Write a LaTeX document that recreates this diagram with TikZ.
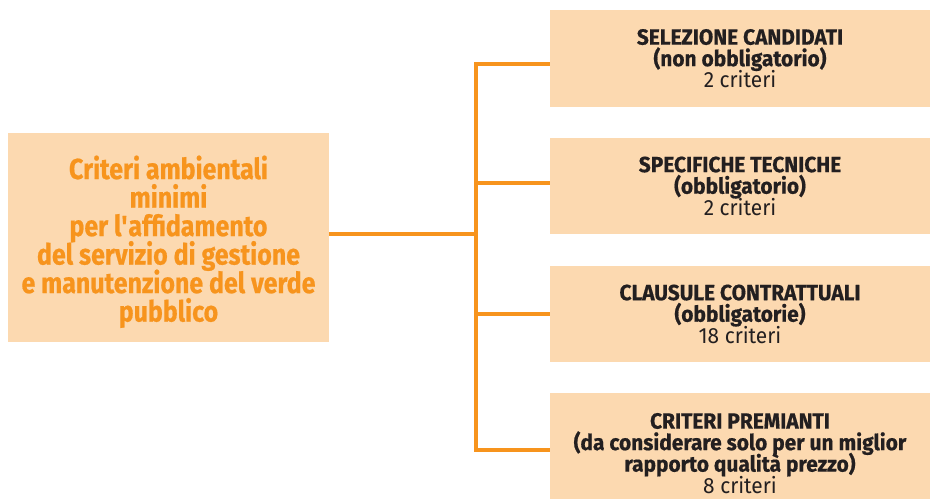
\documentclass[tikz,border=0pt]{standalone}
\usepackage{fontspec}
\setmainfont{Fira Sans}[FakeStretch=0.95,BoldFeatures={FakeBold=0.6}]
\newfontfamily\leftfont{Fira Sans}[FakeStretch=0.86,BoldFeatures={FakeBold=0.6}]
\definecolor{peach}{HTML}{FCD9B0}
\definecolor{org}{HTML}{F7941D}
\definecolor{ink}{HTML}{231F20}
\setlength{\lineskiplimit}{-20pt}
\begin{document}
\begin{tikzpicture}[x=1pt,y=-1pt,
  leftbox/.style={fill=peach,draw=none,minimum width=321pt,minimum height=209pt,inner sep=0pt,
    align=center,text=org,font=\leftfont\fontsize{29}{28.5}\selectfont\bfseries},
  catbox/.style={fill=peach,draw=none,minimum width=380pt,inner sep=0pt,
    align=center,text=ink,font=\fontsize{22}{21.5}\selectfont},
  link/.style={draw=org,line width=4pt}]
\useasboundingbox (0,0) rectangle (932,501);
\node[leftbox] (L) at (168.5,237.5) {\rule{0pt}{32pt}Criteri ambientali\\minimi\\per l\textquotesingle affidamento\\del servizio di gestione\\e manutenzione del verde\\pubblico};
\node[catbox,minimum height=97pt] (B1) at (740,58.5) {\textbf{SELEZIONE CANDIDATI}\\\textbf{(non obbligatorio)}\\2 criteri};
\node[catbox,minimum height=96pt] (B2) at (740,186) {\textbf{SPECIFICHE TECNICHE}\\\textbf{(obbligatorio)}\\2 criteri};
\node[catbox,minimum height=96pt] (B3) at (740,314) {\textbf{CLAUSULE CONTRATTUALI}\\\textbf{(obbligatorie)}\\18 criteri};
\node[catbox,minimum height=106pt] (B4) at (740,446) {\rule{0pt}{30pt}\textbf{CRITERI PREMIANTI}\\\textbf{(da considerare solo per un miglior}\\\textbf{rapporto qualità prezzo)}\\8 criteri};
\coordinate (J) at (476,234);
\coordinate (T1) at (476,64);
\coordinate (T2) at (476,183);
\coordinate (T3) at (476,314);
\coordinate (T4) at (476,450);
\draw[link] (L.east |- J) -- (J);
\draw[link] ([yshift=-2pt]T1) -- ([yshift=2pt]T4);
\draw[link] ([xshift=-2pt]T1) -- (B1.west |- T1);
\draw[link] (T2) -- (B2.west |- T2);
\draw[link] (T3) -- (B3.west |- T3);
\draw[link] ([xshift=-2pt]T4) -- (B4.west |- T4);
\end{tikzpicture}
\end{document}
